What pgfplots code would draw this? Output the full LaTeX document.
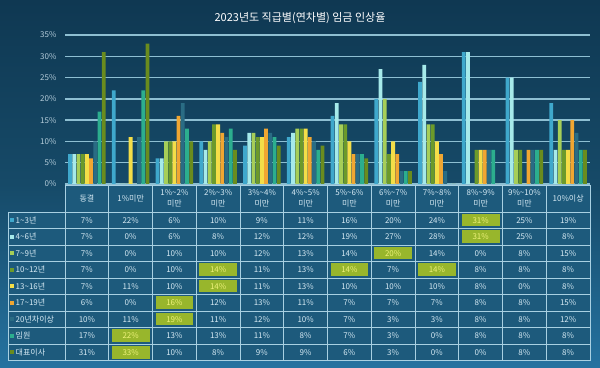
\documentclass[border=0pt]{standalone}
\usepackage{pgfplots}
\pgfplotsset{compat=1.18}
\usepackage{pgfplotstable}
\usepackage{fontspec}
\setmainfont{Noto Sans CJK KR}
\newcommand{\tld}{\textasciitilde}
\definecolor{bgtop}{HTML}{0F3852}
\definecolor{bgmid}{HTML}{164A68}
\definecolor{bgbot}{HTML}{2572A0}
\definecolor{gridc}{HTML}{8EBFD2}
\definecolor{tickc}{HTML}{B4CCDA}
\definecolor{cellbg}{HTML}{1D5A7C}
\definecolor{cellline}{HTML}{A8D0E2}
\definecolor{txtc}{HTML}{D6EAF4}
\definecolor{hl}{HTML}{98B62C}
\definecolor{hltxt}{HTML}{EEF27A}
\definecolor{c1}{HTML}{3FA8CC}
\definecolor{c2}{HTML}{A6EAEA}
\definecolor{c3}{HTML}{A6CE58}
\definecolor{c4}{HTML}{6C9A2A}
\definecolor{c5}{HTML}{F4DE48}
\definecolor{c6}{HTML}{F0A632}
\definecolor{c7}{HTML}{2A6C84}
\definecolor{c8}{HTML}{2CAE8E}
\definecolor{c9}{HTML}{6A8C1E}

\pgfplotstableread{
x s1 s2 s3 s4 s5 s6 s7 s8 s9
0 7 7 7 7 7 6 10 17 31
1 22 0 0 0 11 0 11 22 33
2 6 6 10 10 10 16 19 13 10
3 10 8 10 14 14 12 11 13 8
4 9 12 12 11 11 13 12 11 9
5 11 12 13 13 13 11 10 8 9
6 16 19 14 14 10 7 7 7 6
7 20 27 20 7 10 7 3 3 3
8 24 28 14 14 10 7 3 0 0
9 31 31 0 8 8 8 8 8 0
10 25 25 8 8 0 8 8 8 8
11 19 8 15 8 8 15 12 8 8
}\data

\begin{document}
\begin{tikzpicture}[x=1pt,y=1pt]
\shade[top color=bgtop, bottom color=bgmid] (0,183) rectangle (600,367);
\shade[top color=bgmid, bottom color=bgbot] (0,0) rectangle (600,183);
\node[text=white, font=\fontsize{11}{13}\selectfont] at (300,349) {2023년도 직급별(연차별) 임금 인상율};
\begin{axis}[
  at={(65pt,183pt)}, anchor=south west,
  scale only axis, width=525pt, height=149pt,
  xmin=-0.5, xmax=11.5, ymin=0, ymax=35,
  ybar=0.4pt, bar width=3.8pt,
  axis line style={draw=none},
  xtick=\empty,
  ytick={0,5,...,35},
  yticklabel={\pgfmathprintnumber{\tick}\%},
  /pgf/number format/assume math mode=true,
  yticklabel style={font=\fontsize{8}{9}\selectfont, text=tickc, xshift=-5pt},
  ymajorgrids, grid style={gridc, line width=1.3pt},
  major tick length=0pt,
  clip=false,
]
\addplot[fill=c1, draw=none] table[x=x,y=s1]{\data};
\addplot[fill=c2, draw=none] table[x=x,y=s2]{\data};
\addplot[fill=c3, draw=none] table[x=x,y=s3]{\data};
\addplot[fill=c4, draw=none] table[x=x,y=s4]{\data};
\addplot[fill=c5, draw=none] table[x=x,y=s5]{\data};
\addplot[fill=c6, draw=none] table[x=x,y=s6]{\data};
\addplot[fill=c7, draw=none] table[x=x,y=s7]{\data};
\addplot[fill=c8, draw=none] table[x=x,y=s8]{\data};
\addplot[fill=c9, draw=none] table[x=x,y=s9]{\data};
\end{axis}
% table background
\fill[cellbg] (65,182) rectangle (590,155);
\fill[cellbg] (8,155) rectangle (590,6.5);
% highlights
\foreach \c/\s in {9/1,9/2,7/3,3/4,6/4,8/4,3/5,2/6,2/7,1/8,1/9} {
  \fill[hl] ({65+43.75*\c+3},{155-16.5*(\s-1)-2}) rectangle ({65+43.75*(\c+1)-3},{155-16.5*\s+2});
  \expandafter\gdef\csname hl-\c-\s\endcsname{}
}
% grid lines
\foreach \k in {0,...,12} \draw[cellline, line width=0.9pt] ({65+43.75*\k},182) -- ({65+43.75*\k},6.5);
\draw[cellline, line width=0.9pt] (8,155) -- (8,6.5);
\draw[cellline, line width=0.9pt] (65,182) -- (590,182);
\foreach \r in {0,...,9} \draw[cellline, line width=0.9pt] (8,{155-16.5*\r}) -- (590,{155-16.5*\r});
% header
\foreach \h [count=\c from 0] in {{동결},{1\%미만},{1\%\tld2\%\\미만},{2\%\tld3\%\\미만},{3\%\tld4\%\\미만},{4\%\tld5\%\\미만},{5\%\tld6\%\\미만},{6\%\tld7\%\\미만},{7\%\tld8\%\\미만},{8\%\tld9\%\\미만},{9\%\tld10\%\\미만},{10\%이상}}
  \node[align=center, text=txtc, font=\fontsize{8}{10.5}\selectfont, inner sep=0] at ({65+43.75*(\c+0.5)},168.5) {\h};
% row labels
\foreach \n [count=\s] in {1\tld3년,4\tld6년,7\tld9년,10\tld12년,13\tld16년,17\tld19년,20년차이상,임원,대표이사} {
  \fill[c\s] (10,{155-16.5*(\s-0.5)-2}) rectangle ++(4,4);
  \node[anchor=west, text=txtc, font=\fontsize{8}{9}\selectfont, inner sep=0] at (15.5,{155-16.5*(\s-0.5)}) {\n};
}
% values
\foreach \s in {1,...,9} {
  \foreach \c in {0,...,11} {
    \pgfplotstablegetelem{\c}{s\s}\of\data
    \ifcsname hl-\c-\s\endcsname\def\tc{hltxt}\else\def\tc{txtc}\fi
    \node[text=\tc, font=\fontsize{8}{9}\selectfont, inner sep=0] at ({65+43.75*(\c+0.5)},{155-16.5*(\s-0.5)}) {\pgfplotsretval\%};
  }
}
\end{tikzpicture}
\end{document}
